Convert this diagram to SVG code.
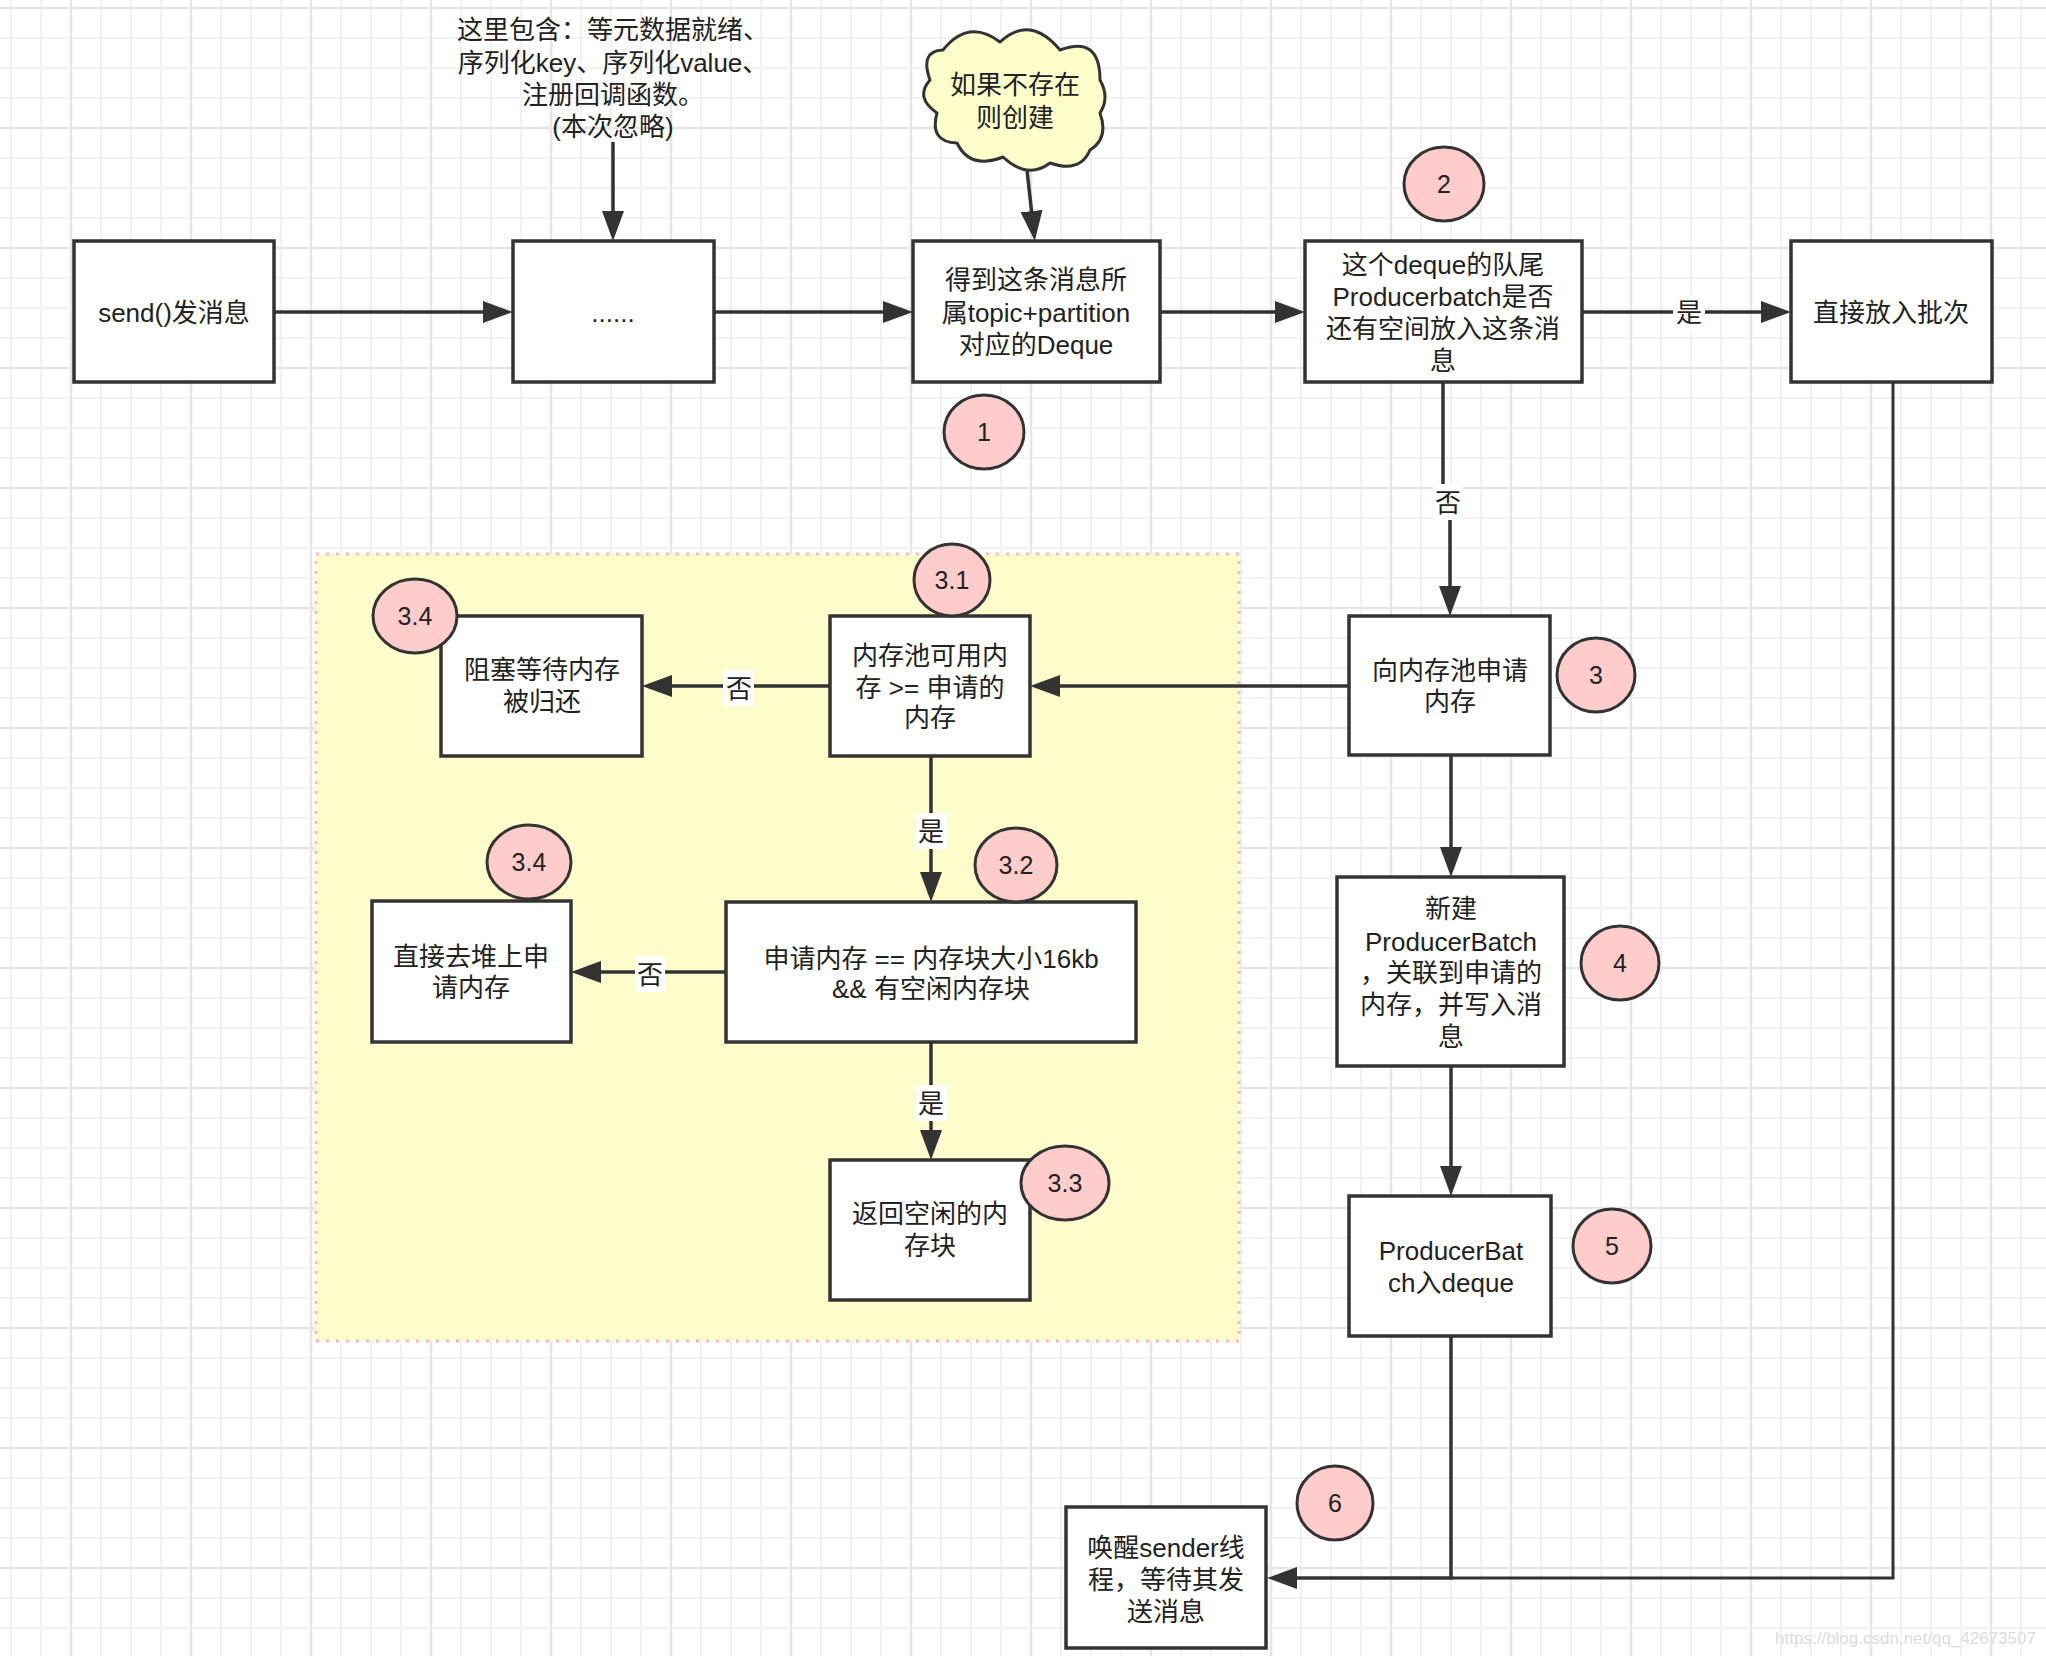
<svg xmlns="http://www.w3.org/2000/svg" width="2046" height="1656" viewBox="0 0 2046 1656">
  <style>
    .box { fill: #ffffff; stroke: #333333; stroke-width: 3.5; }
    .badge { fill: #ffcccc; stroke: #333333; stroke-width: 3; }
    .edge { fill: none; stroke: #333333; stroke-width: 3.5; }
    .edge-thin { fill: none; stroke: #333333; stroke-width: 3; }
    .t { font-family: "Liberation Sans", "Noto Sans CJK SC", sans-serif; font-size: 26px; fill: #222222; text-anchor: middle; }
    .num { font-family: "Liberation Sans", "Noto Sans CJK SC", sans-serif; font-size: 25px; fill: #222222; text-anchor: middle; }
    .lbl { font-family: "Liberation Sans", "Noto Sans CJK SC", sans-serif; font-size: 26px; fill: #222222; text-anchor: middle; }
    .lblbg { fill: #ffffff; stroke: none; }
  </style>
  <defs>
    <pattern id="grid" x="71" y="8" width="120" height="120" patternUnits="userSpaceOnUse">
      <path d="M30,0V120M60,0V120M90,0V120M0,30H120M0,60H120M0,90H120" stroke="#f2f2f2" stroke-width="2" fill="none"/>
      <path d="M0,0V120M120,0V120M0,0H120M0,120H120" stroke="#e6e6e6" stroke-width="2.5" fill="none"/>
    </pattern>
    <marker id="arrow" markerUnits="userSpaceOnUse" markerWidth="32" markerHeight="24" refX="18" refY="11" orient="auto">
      <path d="M0,0 L30,11 L0,22 Z" fill="#333333"/>
    </marker>
  </defs>

  <rect x="0" y="0" width="2046" height="1656" fill="#ffffff"/>
  <rect x="0" y="0" width="2046" height="1656" fill="url(#grid)"/>

  <!-- container -->
  <g id="container">
    <rect x="316" y="554" width="923" height="787" fill="#fffccc" stroke="#f7bcc2" stroke-width="3" stroke-dasharray="3 7"/>
  </g>

  <!-- annotation text -->
  <g id="note">
    <text class="t" x="613" y="39">这里包含：等元数据就绪、</text>
    <text class="t" x="613" y="72">序列化key、序列化value、</text>
    <text class="t" x="613" y="104">注册回调函数。</text>
    <text class="t" x="613" y="136">(本次忽略)</text>
  </g>

  <!-- connectors -->
  <g id="connectors">
    <path class="edge" d="M274,312 H501" marker-end="url(#arrow)"/>
    <path class="edge" d="M714,312 H901" marker-end="url(#arrow)"/>
    <path class="edge" d="M613,142 V229" marker-end="url(#arrow)"/>
    <path class="edge" d="M1027,170 L1033.5,229" marker-end="url(#arrow)"/>
    <path class="edge" d="M1160,312 H1293" marker-end="url(#arrow)"/>
    <path class="edge" d="M1582,312 H1779" marker-end="url(#arrow)"/>
    <path class="edge" d="M1443,383 V500 H1450 V604" marker-end="url(#arrow)"/>
    <path class="edge-thin" d="M1893,383 V1578 H1451"/>
    <path class="edge" d="M1451,1336 V1578 H1279" marker-end="url(#arrow)"/>
    <path class="edge" d="M1451,755 V865" marker-end="url(#arrow)"/>
    <path class="edge" d="M1451,1066 V1184" marker-end="url(#arrow)"/>
    <path class="edge" d="M1349,686 H1042" marker-end="url(#arrow)"/>
    <path class="edge" d="M830,686 H654" marker-end="url(#arrow)"/>
    <path class="edge" d="M931,756 V890" marker-end="url(#arrow)"/>
    <path class="edge" d="M726,972 H583" marker-end="url(#arrow)"/>
    <path class="edge" d="M931,1042 V1148" marker-end="url(#arrow)"/>

    <rect class="lblbg" x="1673" y="295" width="32" height="36"/>
    <text class="lbl" x="1689" y="322">是</text>
    <rect class="lblbg" x="1433" y="484" width="30" height="36"/>
    <text class="lbl" x="1448" y="512">否</text>
    <rect class="lblbg" x="723" y="670" width="31" height="36"/>
    <text class="lbl" x="739" y="698">否</text>
    <rect class="lblbg" x="915" y="813" width="32" height="36"/>
    <text class="lbl" x="931" y="841">是</text>
    <rect class="lblbg" x="635" y="956" width="30" height="36"/>
    <text class="lbl" x="650" y="984">否</text>
    <rect class="lblbg" x="915" y="1085" width="32" height="36"/>
    <text class="lbl" x="931" y="1113">是</text>
  </g>

  <!-- nodes -->
  <g id="n-send">
    <rect class="box" x="74" y="241" width="200" height="141"/>
    <text class="t" x="174" y="322">send()发消息</text>
  </g>
  <g id="n-dots">
    <rect class="box" x="513" y="241" width="201" height="141"/>
    <text class="t" x="613" y="322">......</text>
  </g>
  <g id="n-cloud">
    <path d="M943,50 Q968.5,18 1000,42 Q1030,14 1060,50 Q1100,35 1100,80 Q1110,97.5 1100,113 Q1109,138.5 1090,150 Q1080,173.5 1050,163 Q1027.5,180 1003,157 Q970,170 957,143 Q929,142 937,113 Q914.5,97.5 930,80 Q919.5,51 943,50 Z" fill="#ffffcc" stroke="#333333" stroke-width="3" stroke-linejoin="round"/>
    <text class="t" x="1015" y="94">如果不存在</text>
    <text class="t" x="1015" y="127">则创建</text>
  </g>
  <g id="n-deque">
    <rect class="box" x="913" y="241" width="247" height="141"/>
    <text class="t" x="1036" y="289">得到这条消息所</text>
    <text class="t" x="1036" y="322">属topic+partition</text>
    <text class="t" x="1036" y="354">对应的Deque</text>
  </g>
  <g id="n-check">
    <rect class="box" x="1305" y="241" width="277" height="141"/>
    <text class="t" x="1443" y="274">这个deque的队尾</text>
    <text class="t" x="1443" y="306">Producerbatch是否</text>
    <text class="t" x="1443" y="338">还有空间放入这条消</text>
    <text class="t" x="1443" y="370">息</text>
  </g>
  <g id="n-direct">
    <rect class="box" x="1791" y="241" width="201" height="141"/>
    <text class="t" x="1891" y="322">直接放入批次</text>
  </g>
  <g id="n-alloc">
    <rect class="box" x="1349" y="616" width="201" height="139"/>
    <text class="t" x="1450" y="680">向内存池申请</text>
    <text class="t" x="1450" y="711">内存</text>
  </g>
  <g id="n-newbatch">
    <rect class="box" x="1337" y="877" width="227" height="189"/>
    <text class="t" x="1451" y="918">新建</text>
    <text class="t" x="1451" y="951">ProducerBatch</text>
    <text class="t" x="1451" y="982">，关联到申请的</text>
    <text class="t" x="1451" y="1014">内存，并写入消</text>
    <text class="t" x="1451" y="1046">息</text>
  </g>
  <g id="n-enqueue">
    <rect class="box" x="1349" y="1196" width="202" height="140"/>
    <text class="t" x="1451" y="1260">ProducerBat</text>
    <text class="t" x="1451" y="1292">ch入deque</text>
  </g>
  <g id="n-wakeup">
    <rect class="box" x="1066" y="1507" width="200" height="141"/>
    <text class="t" x="1166" y="1557">唤醒sender线</text>
    <text class="t" x="1166" y="1589">程，等待其发</text>
    <text class="t" x="1166" y="1621">送消息</text>
  </g>
  <g id="n-poolcheck">
    <rect class="box" x="830" y="616" width="200" height="140"/>
    <text class="t" x="930" y="665">内存池可用内</text>
    <text class="t" x="930" y="697">存 &gt;= 申请的</text>
    <text class="t" x="930" y="727">内存</text>
  </g>
  <g id="n-block">
    <rect class="box" x="441" y="616" width="201" height="140"/>
    <text class="t" x="542" y="679">阻塞等待内存</text>
    <text class="t" x="542" y="711">被归还</text>
  </g>
  <g id="n-sizecheck">
    <rect class="box" x="726" y="902" width="410" height="140"/>
    <text class="t" x="931" y="968">申请内存 == 内存块大小16kb</text>
    <text class="t" x="931" y="998">&amp;&amp; 有空闲内存块</text>
  </g>
  <g id="n-heap">
    <rect class="box" x="372" y="901" width="199" height="141"/>
    <text class="t" x="471" y="966">直接去堆上申</text>
    <text class="t" x="471" y="997">请内存</text>
  </g>
  <g id="n-freeblock">
    <rect class="box" x="830" y="1160" width="200" height="140"/>
    <text class="t" x="930" y="1223">返回空闲的内</text>
    <text class="t" x="930" y="1255">存块</text>
  </g>

  <!-- step badges -->
  <g id="b-1"><ellipse class="badge" cx="984" cy="432" rx="40" ry="37"/><text class="num" x="984" y="441">1</text></g>
  <g id="b-2"><ellipse class="badge" cx="1444" cy="184" rx="40" ry="37"/><text class="num" x="1444" y="193">2</text></g>
  <g id="b-3"><ellipse class="badge" cx="1596" cy="675" rx="39" ry="37"/><text class="num" x="1596" y="684">3</text></g>
  <g id="b-4"><ellipse class="badge" cx="1620" cy="963" rx="39" ry="37"/><text class="num" x="1620" y="972">4</text></g>
  <g id="b-5"><ellipse class="badge" cx="1612" cy="1246" rx="39" ry="37"/><text class="num" x="1612" y="1255">5</text></g>
  <g id="b-6"><ellipse class="badge" cx="1335" cy="1503" rx="38" ry="37"/><text class="num" x="1335" y="1512">6</text></g>
  <g id="b-31"><ellipse class="badge" cx="952" cy="580" rx="38" ry="36"/><text class="num" x="952" y="589">3.1</text></g>
  <g id="b-34a"><ellipse class="badge" cx="415" cy="616" rx="42" ry="37"/><text class="num" x="415" y="625">3.4</text></g>
  <g id="b-32"><ellipse class="badge" cx="1016" cy="865" rx="41" ry="37"/><text class="num" x="1016" y="874">3.2</text></g>
  <g id="b-34b"><ellipse class="badge" cx="529" cy="862" rx="42" ry="37"/><text class="num" x="529" y="871">3.4</text></g>
  <g id="b-33"><ellipse class="badge" cx="1065" cy="1183" rx="44" ry="37"/><text class="num" x="1065" y="1192">3.3</text></g>

  <text x="2036" y="1644" font-family="Liberation Sans, sans-serif" font-size="17" fill="#dcdcdc" text-anchor="end">https://blog.csdn.net/qq_42673507</text>
</svg>
